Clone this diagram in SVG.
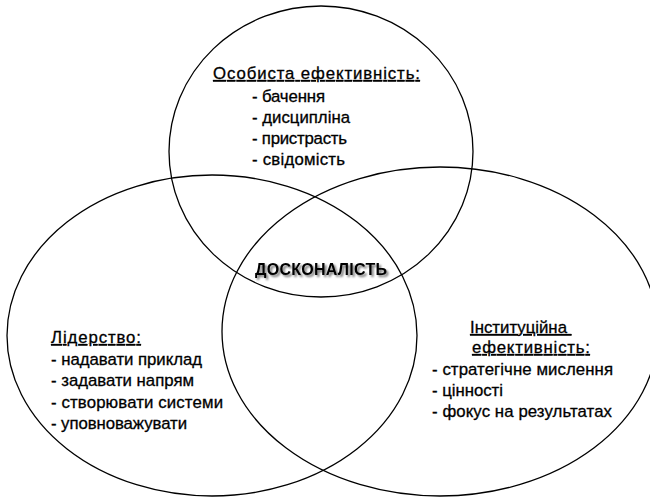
<svg xmlns="http://www.w3.org/2000/svg" width="650" height="497" viewBox="0 0 650 497">
  <defs>
    <filter id="shadow" x="-10%" y="-50%" width="120%" height="200%">
      <feDropShadow dx="2" dy="2" stdDeviation="1.2" flood-color="#000" flood-opacity="0.55"/>
    </filter>
    <style>
      .ring { fill: none; stroke: #000; stroke-width: 1.3; }
      .t { font-family: "Liberation Sans", Arial, sans-serif; font-size: 16.8px; fill: #000; stroke: #000; stroke-width: 0.3; }
      .h { text-decoration: underline; }
      .core { font-family: "Liberation Sans", Arial, sans-serif; font-size: 16px; font-weight: bold; fill: #000; }
    </style>
  </defs>
  <rect width="650" height="497" fill="#fff"/>

  <g id="personal">
    <ellipse class="ring" cx="321" cy="151.5" rx="152" ry="145.5"/>
    <text class="t h" x="213" y="79" textLength="207" lengthAdjust="spacing">Особиста ефективність:</text>
    <text class="t" x="252" y="102" textLength="73" lengthAdjust="spacing">- бачення</text>
    <text class="t" x="252" y="123" textLength="98" lengthAdjust="spacing">- дисципліна</text>
    <text class="t" x="252" y="144" textLength="95" lengthAdjust="spacing">- пристрасть</text>
    <text class="t" x="252" y="165" textLength="93" lengthAdjust="spacing">- свідомість</text>
  </g>

  <g id="leadership">
    <ellipse class="ring" cx="212" cy="335.5" rx="205" ry="160.5"/>
    <text class="t h" x="51" y="343" textLength="90" lengthAdjust="spacing">Лідерство:</text>
    <text class="t" x="51" y="365" textLength="151" lengthAdjust="spacing">- надавати приклад</text>
    <text class="t" x="51" y="386" textLength="143" lengthAdjust="spacing">- задавати напрям</text>
    <text class="t" x="51" y="408" textLength="172" lengthAdjust="spacing">- створювати системи</text>
    <text class="t" x="51" y="429" textLength="136" lengthAdjust="spacing">- уповноважувати</text>
  </g>

  <g id="institutional">
    <ellipse class="ring" cx="440" cy="331.5" rx="218" ry="164.5"/>
    <text class="t h" x="470" y="333" xml:space="preserve">Інституційна </text>
    <text class="t h" x="472" y="353" textLength="118" lengthAdjust="spacing">ефективність:</text>
    <text class="t" x="432" y="375" textLength="181" lengthAdjust="spacing">- стратегічне мислення</text>
    <text class="t" x="432" y="396" textLength="71" lengthAdjust="spacing">- цінності</text>
    <text class="t" x="432" y="417" textLength="180" lengthAdjust="spacing">- фокус на результатах</text>
  </g>

  <g id="excellence">
    <text class="core" x="255" y="275" textLength="132" lengthAdjust="spacing" filter="url(#shadow)">ДОСКОНАЛІСТЬ</text>
  </g>

  <g id="connectors"/>
</svg>
